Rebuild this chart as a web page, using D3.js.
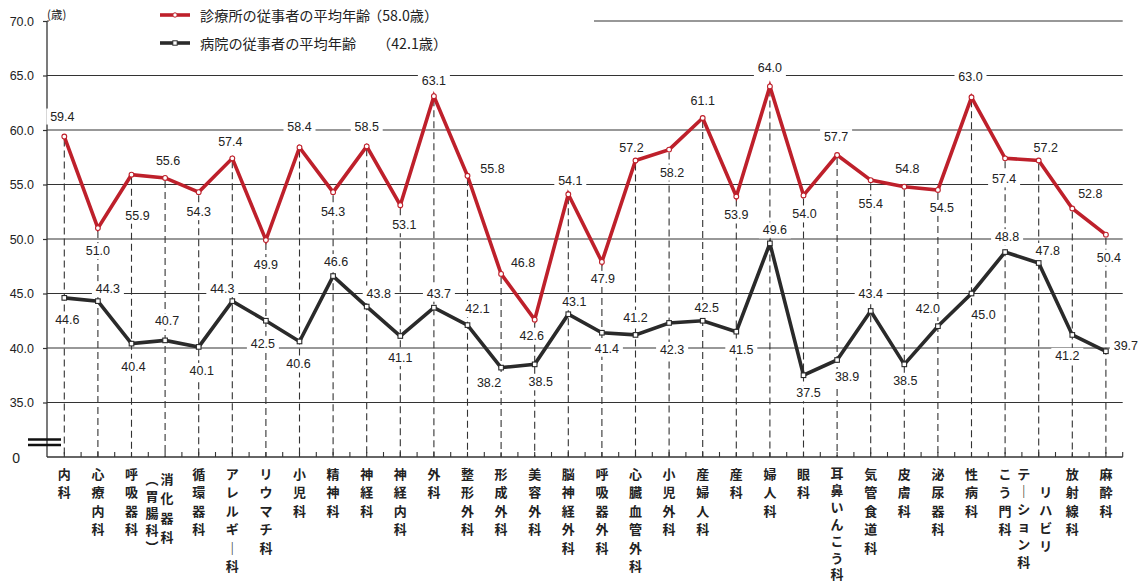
<!DOCTYPE html>
<html><head><meta charset="utf-8">
<script src="https://cdn.jsdelivr.net/npm/d3@7/dist/d3.min.js"></script>
<style>
html,body{margin:0;padding:0;background:#fff;}
svg{display:block;}
.num{font-family:"Liberation Sans",Arial,sans-serif;font-size:12.5px;fill:#222;}
.jp{font-family:"Noto Sans CJK JP","Noto Sans",sans-serif;fill:#222;}
</style>
</head><body>
<svg id="chart" width="1145" height="583"></svg>
<script>
// ---------------- data ----------------
const categories = ["内科","心療内科","呼吸器科","消化器科（胃腸科）","循環器科","アレルギー科","リウマチ科","小児科","精神科","神経科","神経内科","外科","整形外科","形成外科","美容外科","脳神経外科","呼吸器外科","心臓血管外科","小児外科","産婦人科","産科","婦人科","眼科","耳鼻いんこう科","気管食道科","皮膚科","泌尿器科","性病科","こう門科","リハビリテーション科","放射線科","麻酔科"];
const clinicValues = [59.4,51.0,55.9,55.6,54.3,57.4,49.9,58.4,54.3,58.5,53.1,63.1,55.8,46.8,42.6,54.1,47.9,57.2,58.2,61.1,53.9,64.0,54.0,57.7,55.4,54.8,54.5,63.0,57.4,57.2,52.8,50.4];
const hospitalValues = [44.6,44.3,40.4,40.7,40.1,44.3,42.5,40.6,46.6,43.8,41.1,43.7,42.1,38.2,38.5,43.1,41.4,41.2,42.3,42.5,41.5,49.6,37.5,38.9,43.4,38.5,42.0,45.0,48.8,47.8,41.2,39.7];
const seriesNames = ["診療所の従事者の平均年齢","病院の従事者の平均年齢"];
const seriesAverages = ["（58.0歳）","（42.1歳）"];
const yTickValues = [30,35,40,45,50,55,60,65,70];
const yTickLabels = ["0","35.0","40.0","45.0","50.0","55.0","60.0","65.0","70.0"];
const yUnit = "(歳)";

// ---------------- label placement (pixel offsets from each point) ----------------
const clinicLabelDx = [-2,0,6,3,0,-2,0,0,0,0,4,0,25,22,-3,2,1,-4,3,0,0,0,1,-1,0,3,4,-1,-1,7,18,3];
const clinicLabelDy = [-20,23,41,-17,20,-16,25,-20,20,-19,20,-15,-7,-11,16,-13,17,-13,23,-17,19,-18,19,-18,24,-18,18,-20,21,-13,-14,23];
const hospLabelDx = [3,10,2,2,3,-10,-3,-1,3,12,0,5,10,-12,6,6,5,0,3,4,5,5,5,10,0,1,-10,12,2,9,-5,20];
const hospLabelDy = [22,-12,23,-19,24,-12,23,23,-14,-13,22,-14,-16,15,18,-12,16,-17,27,-13,18,-13,18,17,-17,17,-17,21,-15,-12,21,-5];

// ---------------- setup ----------------
const RED = "#be202b", BLK = "#2a2a2a", GRID = "#333";
const svg = d3.select("#chart");
const x = d3.scalePoint().domain(categories).range([64.3, 1105.9]);
const y = d3.scaleLinear().domain([30, 70]).range([457, 21]);
const xLeft = 47, xRight = 1122.7;
const step = x.step();

// gridlines
svg.append("g").selectAll("line").data(yTickValues.filter(v => v > 30)).join("line")
  .attr("x1", xLeft).attr("x2", xRight)
  .attr("y1", d => y(d)).attr("y2", d => y(d))
  .attr("stroke", GRID).attr("stroke-width", 1.2);

// dashed verticals from clinic point to baseline
svg.append("g").selectAll("line").data(categories).join("line")
  .attr("x1", d => x(d)).attr("x2", d => x(d))
  .attr("y1", (d, i) => y(clinicValues[i]) + 3).attr("y2", y(30))
  .attr("stroke", "#333").attr("stroke-width", 1.1).attr("stroke-dasharray", "7,4");

// legend background (hides the top gridline)
svg.append("rect").attr("x", xLeft + 2).attr("y", 4).attr("width", 545).attr("height", 30).attr("fill", "#fff");

// y axis
const yAxis = d3.axisLeft(y).tickValues(yTickValues).tickFormat((d, i) => yTickLabels[i]).tickSize(4).tickPadding(9);
const yg = svg.append("g").attr("transform", `translate(${xLeft},0)`).call(yAxis);
yg.select(".domain").remove();
yg.selectAll(".tick line").attr("stroke", GRID).attr("stroke-width", 1.2);
yg.selectAll(".tick text").attr("class", "num").style("font-size", "12.5px").attr("fill", "#222");
yg.selectAll(".tick").filter(d => d === 30).select("text").attr("x", -27).attr("dy", "0.4em").style("font-size", "14px");
yg.selectAll(".tick").filter(d => d === 30).select("line").remove();
svg.append("line").attr("x1", xLeft).attr("x2", xLeft).attr("y1", y(70)).attr("y2", y(30))
  .attr("stroke", GRID).attr("stroke-width", 1.3);

// baseline + ticks
svg.append("line").attr("x1", xLeft).attr("x2", xRight).attr("y1", y(30)).attr("y2", y(30))
  .attr("stroke", GRID).attr("stroke-width", 1.3);
const tickXs = [];
categories.forEach((c, i) => { tickXs.push(x(c)); tickXs.push(x(c) + step / 2); });
svg.append("g").selectAll("line").data(tickXs).join("line")
  .attr("x1", d => d).attr("x2", d => d).attr("y1", y(30)).attr("y2", y(30) - 5)
  .attr("stroke", GRID).attr("stroke-width", 1.1);

// axis break marks
[439.5, 445].forEach(yy => {
  svg.append("line").attr("x1", 28).attr("x2", 61).attr("y1", yy).attr("y2", yy)
    .attr("stroke", "#111").attr("stroke-width", 2.6);
});

// unit
svg.append("text").attr("class", "jp").attr("x", 47).attr("y", 19).style("font-size", "11.5px").text(yUnit);

// label background boxes
function labelPos(vals, dxs, dys) {
  return categories.map((c, i) => ({ cx: x(c) + dxs[i], cy: y(vals[i]) + dys[i], t: vals[i].toFixed(1) }));
}
const clinicLabels = labelPos(clinicValues, clinicLabelDx, clinicLabelDy);
const hospLabels = labelPos(hospitalValues, hospLabelDx, hospLabelDy);
const allLabels = clinicLabels.concat(hospLabels);
svg.append("g").selectAll("rect").data(allLabels).join("rect")
  .attr("x", d => d.cx - 16).attr("y", d => d.cy - 8).attr("width", 32).attr("height", 16)
  .attr("fill", "#fff");

// series lines
const line = vals => d3.line().x((d, i) => x(categories[i])).y(d => y(d))(vals);
svg.append("path").attr("d", line(clinicValues)).attr("fill", "none").attr("stroke", RED)
  .attr("stroke-width", 3.6).attr("stroke-linejoin", "miter").attr("stroke-miterlimit", 10);
svg.append("path").attr("d", line(hospitalValues)).attr("fill", "none").attr("stroke", BLK)
  .attr("stroke-width", 3.6).attr("stroke-linejoin", "miter").attr("stroke-miterlimit", 10);

// markers
svg.append("g").selectAll("circle").data(clinicValues).join("circle")
  .attr("cx", (d, i) => x(categories[i])).attr("cy", d => y(d)).attr("r", 2.4)
  .attr("fill", "#fff").attr("stroke", RED).attr("stroke-width", 1.1);
svg.append("g").selectAll("rect").data(hospitalValues).join("rect")
  .attr("x", (d, i) => x(categories[i]) - 2.3).attr("y", d => y(d) - 2.3).attr("width", 4.6).attr("height", 4.6)
  .attr("fill", "#fff").attr("stroke", BLK).attr("stroke-width", 1.1);

// value labels
svg.append("g").selectAll("text").data(allLabels).join("text")
  .attr("class", "num").attr("x", d => d.cx).attr("y", d => d.cy)
  .attr("text-anchor", "middle").attr("dominant-baseline", "central").text(d => d.t);

// legend
[[RED, 15], [BLK, 43]].forEach(([col, ly], k) => {
  svg.append("line").attr("x1", 160).attr("x2", 190).attr("y1", ly).attr("y2", ly).attr("stroke", col).attr("stroke-width", 3.6);
  if (k === 0) svg.append("circle").attr("cx", 175).attr("cy", ly).attr("r", 2.2).attr("fill", "#fff").attr("stroke", col).attr("stroke-width", 1);
  else svg.append("rect").attr("x", 172.8).attr("y", ly - 2.2).attr("width", 4.4).attr("height", 4.4).attr("fill", "#fff").attr("stroke", col).attr("stroke-width", 1);
  svg.append("text").attr("class", "jp").attr("x", 200).attr("y", ly).attr("dominant-baseline", "central")
    .style("font-size", "14.2px").text(seriesNames[k]);
  svg.append("text").attr("class", "jp").attr("x", k === 0 ? 368 : 377).attr("y", ly).attr("dominant-baseline", "central")
    .style("font-size", "14.2px").text(seriesAverages[k]);
});

// category labels (vertical, stacked characters)
function columnsFor(name) {
  const vert = s => s.replace(/ー/g, "｜").replace(/（/g, "︵").replace(/）/g, "︶");
  const m = name.match(/^(.*)（(.*)）$/);
  if (m) return [{ s: vert(m[1]), dx: 2, y0: 478, sp: 19.5 }, { s: vert("（" + m[2] + "）"), dx: -13, y0: 478, sp: 17 }];
  if (name === "リハビリテーション科") return [{ s: "リハビリ", dx: 7, y0: 491, sp: 18 }, { s: vert("テーション科"), dx: -15, y0: 473, sp: 17.6 }];
  const sp = name.length >= 7 ? 16.9 : 18.4;
  return [{ s: vert(name), dx: 0, y0: name.length >= 7 ? 472.5 : 473.5, sp: sp }];
}
const catG = svg.append("g");
categories.forEach(c => {
  columnsFor(c).forEach(col => {
    Array.from(col.s).forEach((ch, j) => {
      catG.append("text").attr("class", "jp").attr("x", x(c) + col.dx).attr("y", col.y0 + j * col.sp)
        .attr("text-anchor", "middle").attr("dominant-baseline", "central")
        .style("font-size", "13px").style("font-weight", "bold").text(ch);
    });
  });
});
</script>
</body></html>
